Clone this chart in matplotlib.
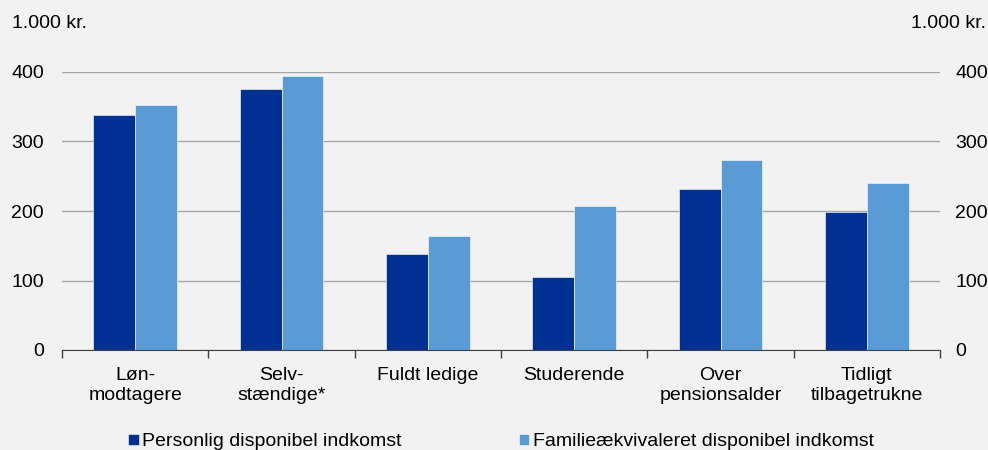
import matplotlib.pyplot as plt
import numpy as np

plt.rcParams['font.family'] = ['Liberation Sans', 'DejaVu Sans']

categories = ['Løn-\nmodtagere', 'Selv-\nstændige*', 'Fuldt ledige', 'Studerende',
              'Over\npensionsalder', 'Tidligt\ntilbagetrukne']
personlig = [338, 376, 138, 105, 232, 198]
familie = [352, 394, 164, 207, 274, 241]
series_names = ['Personlig disponibel indkomst', 'Familieækvivaleret disponibel indkomst']
yticks = [0, 100, 200, 300, 400]

bg = '#f2f2f2'
dark = '#003192'
light = '#5b9bd5'
fs = 14

fig = plt.figure(figsize=(9.88, 4.5), dpi=100, facecolor=bg)
ax = fig.add_axes([62 / 988, 1 - 350 / 450, 878 / 988, 278 / 450], facecolor=bg)

x = np.arange(len(categories))
w = 0.287
ax.bar(x - w / 2, personlig, w, color=dark, edgecolor='white', linewidth=0.4, label=series_names[0], zorder=3)
ax.bar(x + w / 2, familie, w, color=light, edgecolor='white', linewidth=0.4, label=series_names[1], zorder=3)

ax.set_xlim(-0.5, len(categories) - 0.5)
ax.set_ylim(0, 400)
ax.set_yticks(yticks)
ax.yaxis.grid(True, color='#a6a6a6', linewidth=1, zorder=0)
ax.tick_params(axis='y', length=0, labelsize=fs, pad=13)

ax.set_xticks(x)
ax.set_xticklabels(categories, fontsize=fs, linespacing=1.25)
ax.set_xticks(np.arange(-0.5, len(categories)), minor=True)
ax.tick_params(axis='x', which='major', length=0, pad=12)
ax.tick_params(axis='x', which='minor', length=6, direction='out', color='#404040', width=1)

for s in ['top', 'left', 'right']:
    ax.spines[s].set_visible(False)
ax.spines['bottom'].set_color('#404040')
ax.spines['bottom'].set_zorder(4)

ax2 = ax.twinx()
ax2.set_ylim(0, 400)
ax2.set_yticks(yticks)
ax2.tick_params(axis='y', length=0, labelsize=fs, pad=11)
for s in ['top', 'left', 'right', 'bottom']:
    ax2.spines[s].set_visible(False)

fig.text(12 / 988, 1 - 23 / 450, '1.000 kr.', fontsize=fs, va='center', ha='left')
fig.text(986 / 988, 1 - 23 / 450, '1.000 kr.', fontsize=fs, va='center', ha='right')

handles, labels = ax.get_legend_handles_labels()
fig.legend(handles, labels, loc='center', bbox_to_anchor=(0.5 + 7 / 988, 1 - 442 / 450), ncol=2,
           frameon=False, fontsize=fs, handlelength=0.55, handleheight=0.55,
           handletextpad=0.2, columnspacing=6.0, borderpad=0)

fig.savefig('out.png', dpi=100, facecolor=bg)
